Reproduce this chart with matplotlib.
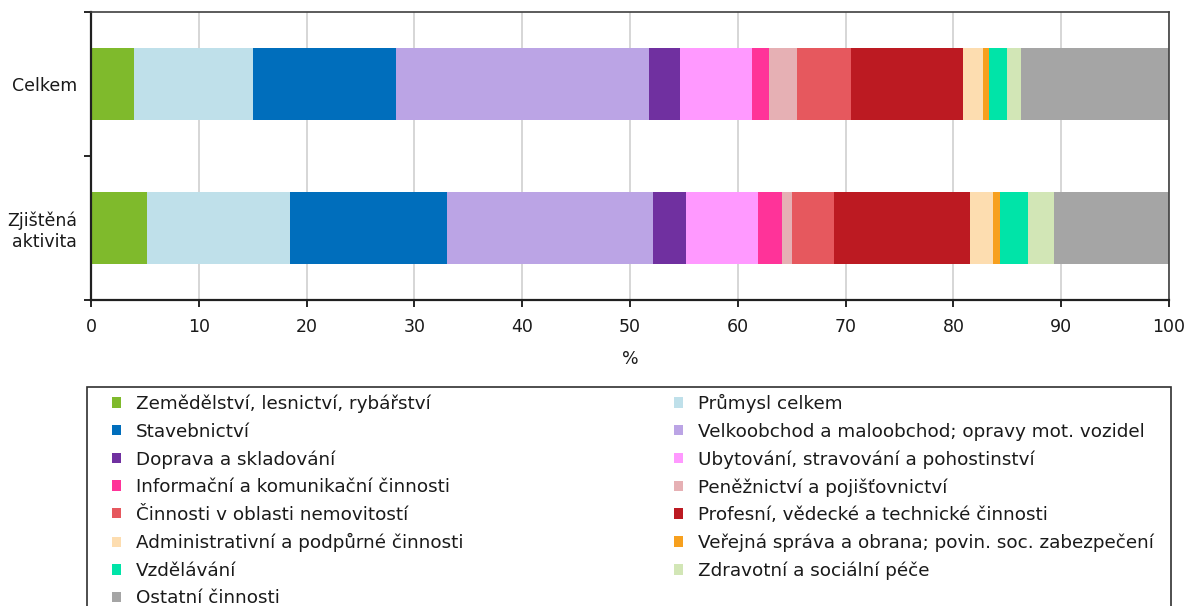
import numpy as np
import matplotlib.pyplot as plt
from matplotlib.patches import Patch, Rectangle

plt.rcParams['font.family'] = ['DejaVu Sans']

categories = ['Celkem', 'Zjištěná\naktivita']
sectors = [
    'Zemědělství, lesnictví, rybářství',
    'Průmysl celkem',
    'Stavebnictví',
    'Velkoobchod a maloobchod; opravy mot. vozidel',
    'Doprava a skladování',
    'Ubytování, stravování a pohostinství',
    'Informační a komunikační činnosti',
    'Peněžnictví a pojišťovnictví',
    'Činnosti v oblasti nemovitostí',
    'Profesní, vědecké a technické činnosti',
    'Administrativní a podpůrné činnosti',
    'Veřejná správa a obrana; povin. soc. zabezpečení',
    'Vzdělávání',
    'Zdravotní a sociální péče',
    'Ostatní činnosti',
]
celkem = [4.0, 11.0, 13.3, 23.5, 2.8, 6.7, 1.6, 2.6, 5.0, 10.4, 1.8, 0.6, 1.7, 1.3, 13.7]
zjistena = [5.2, 13.3, 14.5, 19.1, 3.1, 6.7, 2.2, 0.9, 3.9, 12.6, 2.2, 0.6, 2.6, 2.4, 10.7]
colors = ['#7FBA2C', '#BFE0EA', '#006EBC', '#BBA4E5', '#7030A0', '#FF99FF',
          '#FF3399', '#E6B0B4', '#E6585E', '#BC1A22', '#FDDDB0', '#F7A01E',
          '#00E4A8', '#D2E6B6', '#A5A5A5']

data = np.array([celkem, zjistena])

fig = plt.figure(figsize=(11.89, 6.06), dpi=100)
ax = fig.add_axes([91 / 1189, 1 - 300 / 606, (1169 - 91) / 1189, (300 - 12) / 606])

ypos = np.arange(len(categories))
left = np.zeros(len(categories))
for i, name in enumerate(sectors):
    ax.barh(ypos, data[:, i], left=left, height=0.5, color=colors[i], label=name, zorder=2)
    left += data[:, i]

ax.set_xlim(0, 100)
ax.set_ylim(1.5, -0.5)
ax.set_xticks(np.arange(0, 101, 10))
ax.set_yticks([-0.5, 0.5, 1.5])
ax.set_yticklabels([])
ax.set_yticks(ypos, minor=True)
ax.set_yticklabels(categories, minor=True, fontsize=12.5, color='#1a1a1a')
ax.tick_params(axis='y', which='minor', length=0, pad=10)
ax.tick_params(axis='y', which='major', length=5, width=1.2)
ax.tick_params(axis='x', length=5, width=1.2, labelsize=12.5, pad=8, labelcolor='#1a1a1a')
ax.xaxis.grid(True, color='#D0D0D0', linewidth=1.2, zorder=0)
ax.set_axisbelow(True)
for s in ['left', 'bottom']:
    ax.spines[s].set_linewidth(1.6)
    ax.spines[s].set_color('#202020')
for s in ['top', 'right']:
    ax.spines[s].set_linewidth(1.2)
    ax.spines[s].set_color('#404040')
ax.set_xlabel('%', fontsize=12.5, labelpad=10, color='#1a1a1a')

# legend filled row by row, two columns; frame drawn separately (runs off the bottom)
order = list(range(0, 15, 2)) + list(range(1, 15, 2))
handles = [Patch(facecolor=colors[i], edgecolor='none') for i in order]
labels = [sectors[i] for i in order]
leg = fig.legend(handles, labels, ncol=2, loc='upper left',
                 bbox_to_anchor=(112 / 1189, 1 - 400 / 606, (1154 - 112) / 1189, 0.01),
                 mode='expand', fontsize=13.2, frameon=False,
                 handlelength=0.5, handleheight=0.5,
                 handletextpad=0.8, labelspacing=0.52, borderpad=0,
                 borderaxespad=0, columnspacing=1.0)
for t in leg.get_texts():
    t.set_color('#1a1a1a')

frame = Rectangle((87 / 1189, -0.1), (1171 - 87) / 1189, 0.1 + 1 - 387 / 606,
                  transform=fig.transFigure, fill=False, edgecolor='#303030', linewidth=1.2)
fig.add_artist(frame)

fig.savefig('out.png', dpi=100)
